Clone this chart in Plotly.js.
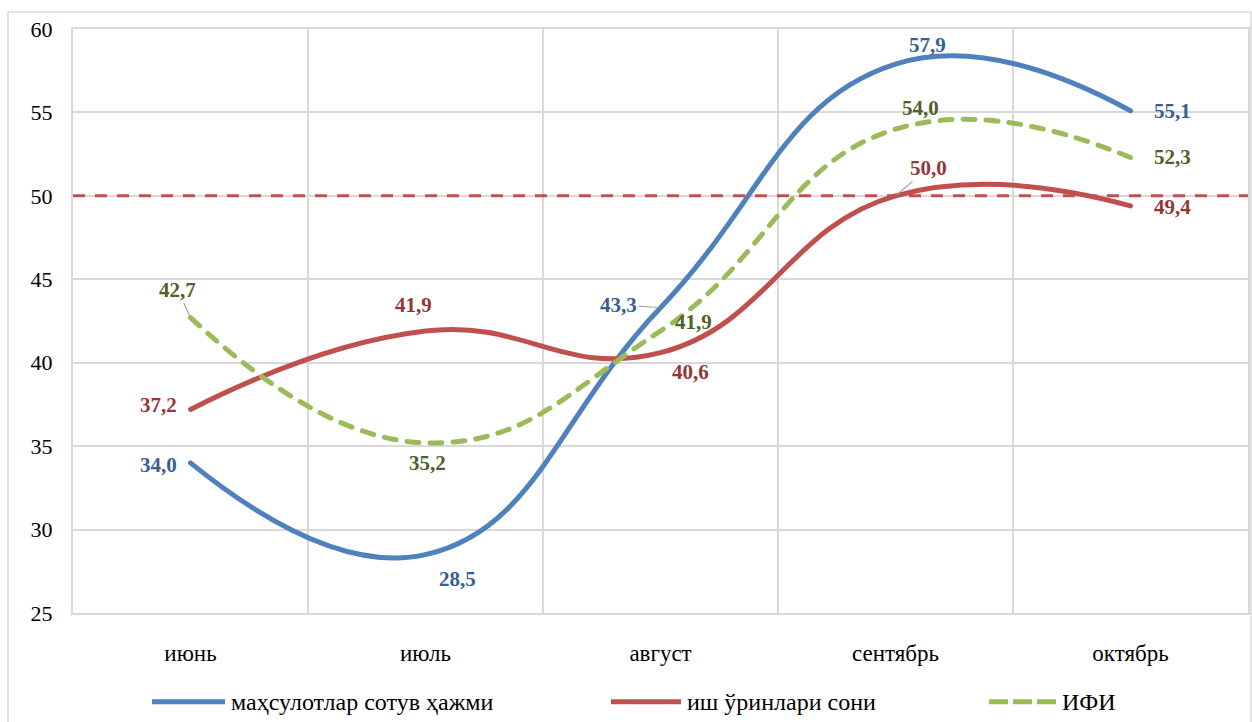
<!DOCTYPE html>
<html><head><meta charset="utf-8">
<script src="https://cdn.plot.ly/plotly-3.0.1.min.js"></script>
<style>
html,body{margin:0;padding:0;background:#fff;}
#chart{width:1252px;height:722px;}
.scatterlayer .js-line{stroke-linecap:round;}
#chart svg text{font-family:"Liberation Serif","Times New Roman",serif !important;}
</style>
</head><body>
<div id="chart"></div>
<script>
// ---- data ----
const months = ["июнь", "июль", "август", "сентябрь", "октябрь"];
const salesVolume = [34.0, 28.5, 43.3, 57.9, 55.1];   // маҳсулотлар сотув ҳажми
const jobsCount   = [37.2, 41.9, 40.6, 50.0, 49.4];   // иш ўринлари сони
const ifiIndex    = [42.7, 35.2, 41.9, 54.0, 52.3];   // ИФИ
const seriesNames = ["маҳсулотлар сотув ҳажми", "иш ўринлари сони", "ИФИ"];
const thresholdValue = 50;
const yTicks = [25, 30, 35, 40, 45, 50, 55, 60];

// ---- styles ----
const FONT = "Liberation Serif, Times New Roman, serif";
const lineColors  = ["#4F81BD", "#C0504D", "#9BBB59"];
const labelColors = ["#376092", "#953735", "#4F6228"];
const GRID = "#D9D9D9";

function fmt(v){ return v.toFixed(1).replace(".", ","); }

const series = [salesVolume, jobsCount, ifiIndex];

const traces = series.map((vals, i) => ({
  type: "scatter", mode: "lines", x: months, y: vals, name: seriesNames[i],
  line: {color: lineColors[i], width: 5, shape: "spline", smoothing: 1.3,
         dash: i === 2 ? "12px,11px" : "solid"},
  hoverinfo: "skip", showlegend: false
}));

// label placement offsets in pixels: [dx, dy(up), leader?]
const labelOffsets = [
  [[-32,-2,0],[32,-24,0],[-42,3,1],[32,19,0],[42,0,0]],
  [[-32,4,0],[-12,26,0],[30,-19,0],[33,28,1],[42,-1,0]],
  [[-13,28,1],[2,-20,0],[33,9,0],[25,21,0],[42,0,0]]
];

const annotations = [];
series.forEach((vals, i) => {
  vals.forEach((v, j) => {
    const o = labelOffsets[i][j];
    const a = {
      x: j, y: v, xref: "x", yref: "y",
      text: "<b>" + fmt(v) + "</b>",
      font: {family: FONT, size: 21, color: labelColors[i]}
    };
    if (o[2]) {
      Object.assign(a, {showarrow: true, ax: o[0], ay: -o[1], arrowhead: 0,
        arrowwidth: 1.2, arrowcolor: "#A6A6A6", standoff: 2, startstandoff: 0});
    } else {
      Object.assign(a, {showarrow: false, xshift: o[0], yshift: o[1]});
    }
    annotations.push(a);
  });
});

// custom legend (paper coordinates)
const legendY = -0.152;
const legendPos = [[0.0672, 0.1294], [0.4579, 0.5174], [0.7796, 0.8366]];
const shapes = [
  {type: "line", xref: "paper", yref: "y", x0: 0, x1: 1, y0: thresholdValue, y1: thresholdValue,
   line: {color: "#C0504D", width: 3, dash: "12px,10px"}},
  {type: "rect", xref: "paper", yref: "paper", x0: -0.0553, x1: 1.0025, y0: -0.25, y1: 1.029,
   line: {color: GRID, width: 1.5}, fillcolor: "rgba(0,0,0,0)", layer: "below"}
];
seriesNames.forEach((n, i) => {
  shapes.push({type: "line", xref: "paper", yref: "paper",
    x0: legendPos[i][0], x1: legendPos[i][1], y0: legendY, y1: legendY,
    line: {color: lineColors[i], width: 5, dash: i === 2 ? "19px,5px" : "solid"}});
  annotations.push({xref: "paper", yref: "paper", x: legendPos[i][1] + 0.0035, y: legendY,
    xanchor: "left", yanchor: "middle", showarrow: false, text: n,
    font: {family: FONT, size: 24, color: "#000"}});
});

const layout = {
  width: 1252, height: 722,
  margin: {l: 73, r: 4, t: 29, b: 109},
  paper_bgcolor: "#fff", plot_bgcolor: "#fff",
  font: {family: FONT, size: 21, color: "#000"},
  showlegend: false,
  xaxis: {type: "category", range: [-0.5, 4.5], tickson: "boundaries", showgrid: true, gridcolor: GRID, gridwidth: 2,
    showline: true, linecolor: GRID, linewidth: 2, mirror: true, ticks: "",
    ticklabelstandoff: 18, tickfont: {family: FONT, size: 23, color: "#000"}, fixedrange: true},
  yaxis: {range: [25, 60], tickvals: yTicks, showgrid: true, gridcolor: GRID, gridwidth: 2,
    showline: true, linecolor: GRID, linewidth: 2, mirror: true, ticks: "", zeroline: false,
    ticklabelstandoff: 14, tickfont: {family: FONT, size: 22, color: "#000"}, fixedrange: true},
  shapes: shapes,
  annotations: annotations
};

Plotly.newPlot("chart", traces, layout, {displayModeBar: false, staticPlot: true});
</script>
</body></html>
